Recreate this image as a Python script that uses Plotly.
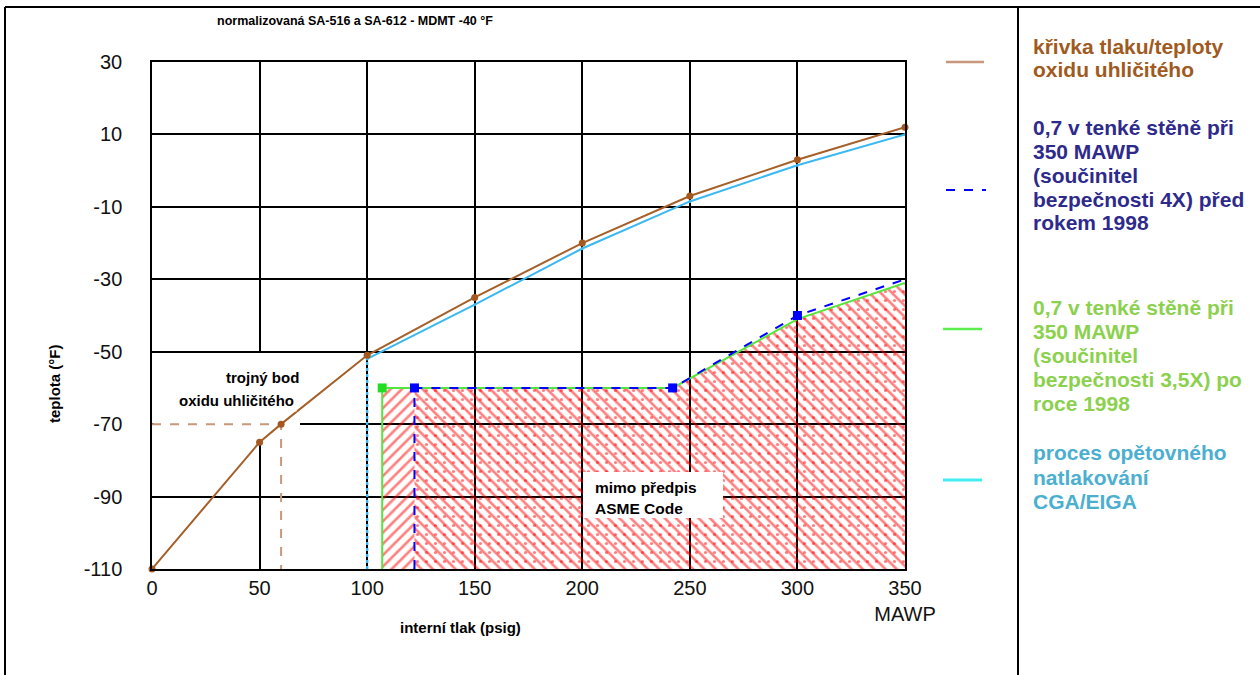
import plotly.graph_objects as go

# ---------------- data ----------------
x_co2 = [0, 50, 60, 100, 150, 200, 250, 300, 350]
t_co2 = [-110, -75, -70, -51, -35, -20, -7, 3, 12]
triple_p, triple_t = 60, -70

x_cga = [100, 150, 200, 250, 300, 350]
t_cga = [-52, -37, -21.5, -8.5, 1.5, 10]

x_pre98 = [122, 242, 300, 350]
t_pre98 = [-60, -60, -40, -30]

x_post98 = [107, 242, 300, 350]
t_post98 = [-60, -60, -41, -31]

x_ticks = [0, 50, 100, 150, 200, 250, 300, 350]
x_ticktext = ["0", "50", "100", "150", "200", "250", "300", "350<br>MAWP"]
y_ticks = [-110, -90, -70, -50, -30, -10, 10, 30]
y_ticktext = ["-110", "-90", "-70", "-50", "-30", "-10", "10", "30"]
x_min, x_max = 0, 350
y_min, y_max = -110, 30

title_text = "normalizovaná SA-516 a SA-612 - MDMT -40 °F"
x_title = "interní tlak (psig)"
y_title = "teplota (°F)"
triple_label = ["trojný bod", "oxidu uhličitého"]
code_label = ["mimo předpis", "ASME Code"]
legend_items = [
    (["křivka tlaku/teploty", "oxidu uhličitého"], "#A05A1E"),
    (["0,7 v tenké stěně při", "350 MAWP", "(součinitel", "bezpečnosti 4X) před", "rokem 1998"], "#2E2A8C"),
    (["0,7 v tenké stěně při", "350 MAWP", "(součinitel", "bezpečnosti 3,5X) po", "roce 1998"], "#8CD14E"),
    (["proces opětovného", "natlakování", "CGA/EIGA"], "#4BAFD0"),
]

# ---------------- layout geometry (pixels) ----------------
W, H = 1260, 675
L, R, T, B = 152, 905, 62, 569


def px(p):
    return (p - L) / (R - L)


def py(p):
    return (B - p) / (B - T)


def dx(p):
    return x_min + (p - L) / (R - L) * (x_max - x_min)


def dy(p):
    return y_max - (p - T) / (B - T) * (y_max - y_min)


SANS = "Liberation Sans, Arial, sans-serif"

BROWN = "#A5602A"
BLUE = "#0000FF"
GREEN = "#55E63C"
CYAN = "#3CB8F0"
HATCH = "#FF0000"

fig = go.Figure()

# hatched region (post-1998 left strip)
fig.add_trace(go.Scatter(
    x=[x_post98[0], x_post98[0], x_pre98[0], x_pre98[0]],
    y=[y_min, t_post98[0], t_post98[0], y_min],
    fill="toself", mode="none", fillcolor="rgba(0,0,0,0)",
    fillpattern=dict(shape="/", fgcolor=HATCH, bgcolor="rgba(0,0,0,0)", size=8, solidity=0.33),
    hoverinfo="skip", showlegend=False))

# hatched region under curve
poly_x = [x_pre98[0], x_pre98[0]] + x_post98[1:] + [x_max]
poly_y = [y_min, t_post98[0]] + t_post98[1:] + [y_min]
fig.add_trace(go.Scatter(
    x=poly_x, y=poly_y, fill="toself", mode="none", fillcolor="rgba(0,0,0,0)",
    fillpattern=dict(shape="\\", fgcolor=HATCH, bgcolor="rgba(0,0,0,0)", size=8, solidity=0.33),
    hoverinfo="skip", showlegend=False))
fig.add_trace(go.Scatter(
    x=poly_x, y=poly_y, fill="toself", mode="none", fillcolor="rgba(0,0,0,0)",
    fillpattern=dict(shape=".", fgcolor=HATCH, bgcolor="rgba(0,0,0,0)", size=9, solidity=0.1),
    hoverinfo="skip", showlegend=False))

# CGA/EIGA vertical dotted & curve
fig.add_trace(go.Scatter(
    x=[x_cga[0], x_cga[0]], y=[y_min, t_cga[0]], mode="lines",
    line=dict(color=CYAN, width=2.5, dash="dot"), hoverinfo="skip", showlegend=False, cliponaxis=False))
fig.add_trace(go.Scatter(
    x=x_cga, y=t_cga, mode="lines+markers",
    line=dict(color=CYAN, width=2), marker=dict(size=3, color=CYAN),
    hoverinfo="skip", showlegend=False, cliponaxis=False))

# post-1998 (green)
fig.add_trace(go.Scatter(
    x=[x_post98[0]] + x_post98, y=[y_min] + t_post98, mode="lines",
    line=dict(color=GREEN, width=2), hoverinfo="skip", showlegend=False, cliponaxis=False))
fig.add_trace(go.Scatter(
    x=[x_post98[0]], y=[t_post98[0]], mode="markers",
    marker=dict(symbol="square", size=9, color="#22DD22"), hoverinfo="skip", showlegend=False, cliponaxis=False))

# pre-1998 (blue dashed)
fig.add_trace(go.Scatter(
    x=[x_pre98[0]] + x_pre98, y=[y_min] + t_pre98, mode="lines",
    line=dict(color=BLUE, width=2, dash="dash"), hoverinfo="skip", showlegend=False, cliponaxis=False))
fig.add_trace(go.Scatter(
    x=x_pre98[:-1], y=t_pre98[:-1], mode="markers",
    marker=dict(symbol="square", size=9, color=BLUE), hoverinfo="skip", showlegend=False, cliponaxis=False))

# triple point dashed guides
fig.add_trace(go.Scatter(
    x=[x_min, triple_p, triple_p], y=[triple_t, triple_t, y_min], mode="lines",
    line=dict(color="#C8987A", width=2, dash="dash"), hoverinfo="skip", showlegend=False, cliponaxis=False))

# CO2 curve
fig.add_trace(go.Scatter(
    x=x_co2, y=t_co2, mode="lines+markers",
    line=dict(color=BROWN, width=2), marker=dict(size=7, color="#A5581E"),
    hoverinfo="skip", showlegend=False, cliponaxis=False))

shapes = []
# white patch behind triple-point label (hides grid, below the traces)
shapes.append(dict(type="rect", xref="x", yref="y", x0=dx(153.5), x1=dx(300), y0=dy(441), y1=dy(353),
                   fillcolor="white", line=dict(width=0), layer="between"))
# white box of "mimo předpis"
shapes.append(dict(type="rect", xref="paper", yref="paper", x0=px(583), x1=px(723), y0=py(518), y1=py(472),
                   fillcolor="white", line=dict(width=0), layer="above"))
# frame lines
frame = dict(color="black", width=2)
shapes.append(dict(type="line", xref="paper", yref="paper", x0=px(5), x1=px(1262), y0=py(7), y1=py(7), line=frame))
shapes.append(dict(type="line", xref="paper", yref="paper", x0=px(5), x1=px(5), y0=py(7), y1=py(680), line=frame))
shapes.append(dict(type="line", xref="paper", yref="paper", x0=px(1018), x1=px(1018), y0=py(7), y1=py(680), line=frame))
# legend samples
shapes.append(dict(type="line", xref="paper", yref="paper", x0=px(946), x1=px(984), y0=py(62), y1=py(62),
                   line=dict(color="#C8967A", width=2.5)))
shapes.append(dict(type="line", xref="paper", yref="paper", x0=px(946), x1=px(986), y0=py(190), y1=py(190),
                   line=dict(color=BLUE, width=2, dash="dash")))
shapes.append(dict(type="line", xref="paper", yref="paper", x0=px(943), x1=px(982), y0=py(329), y1=py(329),
                   line=dict(color="#5CEE4C", width=2.5)))
shapes.append(dict(type="line", xref="paper", yref="paper", x0=px(943), x1=px(982), y0=py(480), y1=py(480),
                   line=dict(color="#44EEF0", width=3)))

ann = []
ann.append(dict(text="<b>" + title_text + "</b>", xref="paper", yref="paper", x=px(355), y=py(21),
                xanchor="center", yanchor="middle", showarrow=False, font=dict(family=SANS, size=12.5, color="black")))
ann.append(dict(text="<b>" + x_title + "</b>", xref="paper", yref="paper", x=px(460), y=py(627),
                xanchor="center", yanchor="middle", showarrow=False, font=dict(family=SANS, size=15, color="black")))
ann.append(dict(text="<b>" + y_title + "</b>", xref="paper", yref="paper", x=px(54), y=py(384), textangle=-90,
                xanchor="center", yanchor="middle", showarrow=False, font=dict(family=SANS, size=15, color="black")))
# triple point label (with white background that interrupts the curve)
ann.append(dict(text="<b>" + triple_label[0] + "</b>", xref="paper", yref="paper", x=px(301), y=py(377),
                xanchor="right", yanchor="middle", showarrow=False, font=dict(family=SANS, size=15, color="black")))
ann.append(dict(text="<b>" + triple_label[1] + "</b>", xref="paper", yref="paper", x=px(297), y=py(400),
                xanchor="right", yanchor="middle", showarrow=False, bgcolor="white", borderpad=2,
                font=dict(family=SANS, size=15, color="black")))
# code label
ann.append(dict(text="<b>" + code_label[0] + "</b>", xref="paper", yref="paper", x=px(593), y=py(487),
                xanchor="left", yanchor="middle", showarrow=False, font=dict(family=SANS, size=15.5, color="black")))
ann.append(dict(text="<b>" + code_label[1] + "</b>", xref="paper", yref="paper", x=px(593), y=py(508),
                xanchor="left", yanchor="middle", showarrow=False, font=dict(family=SANS, size=15.5, color="black")))
# legend text
starts = [46, 127, 307, 453]
for (lines, col), y0 in zip(legend_items, starts):
    for i, line in enumerate(lines):
        ann.append(dict(text="<b>" + line + "</b>", xref="paper", yref="paper", x=px(1031), y=py(y0 + 24 * i),
                        xanchor="left", yanchor="middle", showarrow=False,
                        font=dict(family=SANS, size=21, color=col)))

fig.update_layout(
    width=W, height=H,
    margin=dict(l=L, r=W - R, t=T, b=H - B),
    paper_bgcolor="white", plot_bgcolor="white",
    shapes=shapes, annotations=ann, showlegend=False,
    xaxis=dict(range=[x_min, x_max], tickvals=x_ticks, ticktext=x_ticktext,
               showgrid=True, gridcolor="black", gridwidth=1.5, zeroline=False,
               showline=True, linecolor="black", linewidth=1.5, mirror=True,
               ticks="", tickfont=dict(family=SANS, size=20, color="#111111")),
    yaxis=dict(range=[y_min, y_max], tickvals=y_ticks, ticktext=y_ticktext,
               showgrid=True, gridcolor="black", gridwidth=1.5, zeroline=False,
               showline=True, linecolor="black", linewidth=1.5, mirror=True,
               ticks="", ticklabelstandoff=24, tickfont=dict(family=SANS, size=20, color="#111111")),
)

fig.write_html("out.html", config={"displayModeBar": False},
               post_script="document.body.style.margin='0px';")
